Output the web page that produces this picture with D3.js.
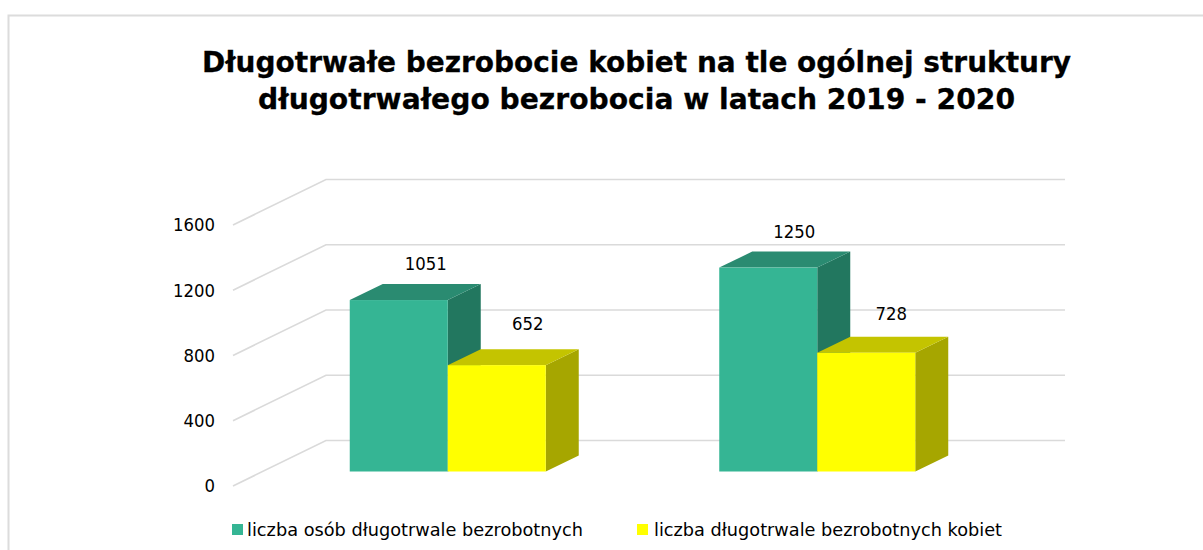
<!DOCTYPE html>
<html lang="pl">
<head>
<meta charset="utf-8">
<style>
html,body{margin:0;padding:0;background:#fff;overflow:hidden}
svg{display:block}
text{font-family:"DejaVu Sans",sans-serif;fill:#000}
</style>
<script src="https://cdn.jsdelivr.net/npm/d3@7"></script>
</head>
<body>
<div id="chart"></div>
<script>
const titleLines = ["Długotrwałe bezrobocie kobiet na tle ogólnej struktury", "długotrwałego bezrobocia w latach 2019 - 2020"];
const categories = ["2019", "2020"];
const seriesNames = ["liczba osób długotrwale bezrobotnych", "liczba długotrwale bezrobotnych kobiet"];
const totalValues = [1051, 1250];
const womenValues = [652, 728];
const tickValues = [0, 400, 800, 1200, 1600];

const W = 1203, H = 550;
const svg = d3.select("#chart").append("svg").attr("width", W).attr("height", H);

// chart frame (top and left edges visible, rest is cropped)
const frame = "#dcdcdc";
svg.append("path").attr("d", "M8.5 550V15.5H1203").attr("fill", "none").attr("stroke", frame).attr("stroke-width", 2);

// title
const titleFit = [869, 757];
svg.selectAll("text.title").data(titleLines).join("text").attr("class", "title")
  .attr("x", 636.5).attr("y", (d, i) => 72 + i * 37)
  .attr("text-anchor", "middle").attr("font-size", 28).attr("font-weight", 700)
  .attr("stroke", "#000").attr("stroke-width", 0.3)
  .attr("textLength", (d, i) => titleFit[i]).attr("lengthAdjust", "spacingAndGlyphs")
  .text(d => d);

// 3-D projection
const depth = {x: 93, y: 45.5};           // wall depth
const barInset = {x: 30, y: 14.5};        // bars stand this far into the floor
const barDepth = {x: 33, y: 16};
const y = d3.scaleLinear().domain([0, 1600]).range([486, 225]);
const x0 = d3.scaleBand().domain(categories).range([233, 972]);
const x1 = d3.scaleBand().domain(d3.range(seriesNames.length)).range([0, 196]);
const barPad = (x0.bandwidth() - 196) / 2;

// gridlines
const grid = svg.append("g").attr("fill", "none").attr("stroke", "#dadada").attr("stroke-width", 1.6);
grid.selectAll("path").data(tickValues).join("path")
  .attr("d", d => `M${x0.range()[0]} ${y(d)}L${x0.range()[0] + depth.x} ${y(d) - depth.y}H${x0.range()[1] + depth.x}`);

// y axis labels, via d3 axis
const axis = svg.append("g").attr("transform", "translate(233,0)")
  .call(d3.axisLeft(y).tickValues(tickValues).tickFormat(d3.format("d")).tickSize(0).tickPadding(18));
axis.select(".domain").remove();
axis.selectAll("text").attr("font-size", 18).attr("font-family", '"DejaVu Sans",sans-serif').attr("fill", "#1a1a1a")
  .attr("textLength", d => String(d).length * 10.5).attr("lengthAdjust", "spacingAndGlyphs");

// bars
const colors = [
  {front: "#35b594", top: "#2a8b71", side: "#22775f"},
  {front: "#ffff00", top: "#c4c400", side: "#a6a600"}
];
const series = [totalValues, womenValues];
const labelNudge = [[[27, -37], [26, -36]], [[31, -42], [25, -39]]]; // series, category
const barsG = svg.append("g");
series.forEach((vals, s) => {
  const g = barsG.append("g");
  vals.forEach((v, c) => {
    const left = x0(categories[c]) + barPad + barInset.x + x1(s);
    const right = left + x1.bandwidth();
    const base = y(0) - barInset.y;
    const top = y(v) - barInset.y;
    const col = colors[s];
    g.append("path").attr("fill", col.side)
      .attr("d", `M${right} ${top}L${right + barDepth.x} ${top - barDepth.y}V${base - barDepth.y}L${right} ${base}Z`);
    g.append("path").attr("fill", col.top)
      .attr("d", `M${left} ${top}L${left + barDepth.x} ${top - barDepth.y}H${right + barDepth.x}L${right} ${top}Z`);
    g.append("rect").attr("fill", col.front)
      .attr("x", left).attr("y", top).attr("width", x1.bandwidth()).attr("height", base - top);
    const n = labelNudge[s][c];
    svg.append("text").attr("class", "value")
      .attr("x", (left + right) / 2 + n[0]).attr("y", top + n[1] + 6.5)
      .attr("text-anchor", "middle").attr("font-size", 18).attr("fill", "#111")
      .attr("textLength", String(v).length * 10.5).attr("lengthAdjust", "spacingAndGlyphs")
      .text(v);
  });
});

// legend
const legendX = [232, 637];
const legendText = [247, 654];
const legendLen = [336, 348];
const legend = svg.selectAll("g.legend").data(seriesNames).join("g").attr("class", "legend");
legend.append("rect").attr("x", (d, i) => legendX[i]).attr("y", 524).attr("width", 11).attr("height", 11)
  .attr("fill", (d, i) => colors[i].front);
legend.append("text").attr("x", (d, i) => legendText[i]).attr("y", 536).attr("font-size", 17.5).attr("fill", "#1a1a1a")
  .attr("textLength", (d, i) => legendLen[i]).attr("lengthAdjust", "spacingAndGlyphs").text(d => d);
</script>
</body>
</html>
